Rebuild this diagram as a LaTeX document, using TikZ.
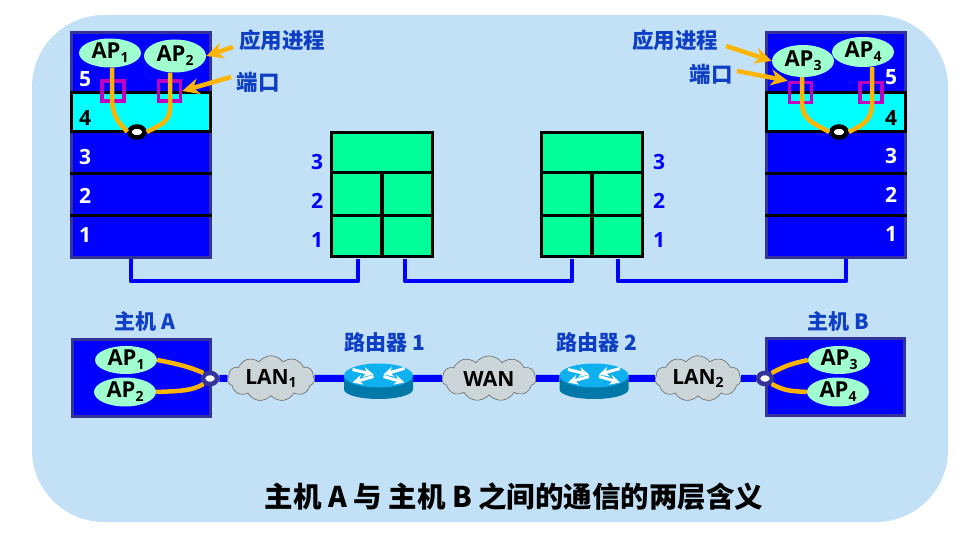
\documentclass[tikz,border=0pt]{standalone}
\usepackage{fontspec}
\setmainfont{Open Sans}
\newfontfamily\cjk{Noto Sans CJK SC}
\usetikzlibrary{arrows.meta, positioning, calc, shapes.geometric, shapes.symbols}
\definecolor{panelblue}{HTML}{C2E1F6}
\definecolor{stackblue}{HTML}{0000FF}
\definecolor{stackedge}{HTML}{333399}
\definecolor{mintap}{HTML}{9FFFCF}
\definecolor{relaygreen}{HTML}{00FF99}
\definecolor{layercyan}{HTML}{00FFFF}
\definecolor{pipeorange}{HTML}{FFB400}
\definecolor{portpurple}{HTML}{C000C0}
\definecolor{labelblue}{HTML}{0F3FC4}
\definecolor{cloudgrey}{HTML}{CCD6D9}
\definecolor{routertop}{HTML}{0FB0F0}
\definecolor{routerside}{HTML}{0078A8}
\tikzset{
	stackbox/.style={draw=stackedge, line width=3pt, fill=stackblue, minimum width=139pt, inner sep=0pt},
	layerline/.style={draw=black, line width=3pt},
	applayer/.style={draw=black, line width=3pt, fill=layercyan, minimum width=139pt, minimum height=39pt, inner sep=0pt},
	apnode/.style={ellipse, fill=mintap, text=black, font=\bfseries\fontsize{22}{24}\selectfont, inner sep=0pt, minimum width=62pt, minimum height=#1},
	apnode/.default=30pt,
	whitenum/.style={text=white, font=\bfseries\fontsize{21}{24}\selectfont, inner sep=0pt},
	blacknum/.style={text=black, font=\bfseries\fontsize{21}{24}\selectfont, inner sep=0pt},
	bluenum/.style={text=stackblue, font=\bfseries\fontsize{21}{24}\selectfont, inner sep=0pt},
	bluelabel/.style={text=labelblue, font=\cjk\bfseries\fontsize{#1}{24}\selectfont, inner sep=0pt},
	bluelabel/.default=21.5,
	pipe/.style={draw=pipeorange, line width=4.5pt},
	pointer/.style={draw=pipeorange, line width=4.5pt, -{Stealth[length=17pt, width=16pt]}},
	portbox/.style={draw=portpurple, line width=3.5pt, minimum width=22pt, minimum height=20pt, inner sep=0pt},
	sockettop/.style={ellipse, draw=black, line width=4.5pt, fill=white, minimum width=15pt, minimum height=11pt, inner sep=0pt},
	socketlow/.style={ellipse, draw=stackedge, line width=4.5pt, fill=white, minimum width=14pt, minimum height=11pt, inner sep=0pt},
	relaycell/.style={draw=black, line width=3pt, fill=relaygreen, inner sep=0pt},
	wire/.style={draw=stackblue, line width=4.5pt, line join=round},
	netline/.style={draw=stackblue, line width=7pt},
	lancloud/.style={cloud, cloud puffs=11, cloud puff arc=110, aspect=2, draw=black!60, line width=0.6pt, fill=cloudgrey, text=black, font=\bfseries\fontsize{21}{24}\selectfont, inner sep=0pt, minimum width=#1, minimum height=44pt},
	routerbase/.style={rectangle, fill=none, inner sep=0pt, minimum width=69pt, minimum height=30pt},
	hostbox/.style={draw=stackedge, line width=3pt, fill=stackblue, inner sep=0pt, minimum width=138pt, minimum height=77pt}
}
\newcommand{\apname}[1]{AP\raisebox{-0.32ex}{\fontsize{14}{14}\selectfont #1}}
\newcommand{\lanname}[2]{#1\raisebox{-0.32ex}{\fontsize{14}{14}\selectfont #2}}
\newcommand{\routericon}[1]{
	\fill[routerside] ($(#1)+(-34.5,-3)$) -- ($(#1)+(-34.5,11)$) arc[start angle=180, end angle=360, x radius=34.5, y radius=-9.5] -- ($(#1)+(34.5,-3)$) -- cycle;
	\fill[routertop] ($(#1)+(0,-3)$) ellipse [x radius=34.5, y radius=12];
	\begin{scope}[shift={($(#1)+(0,-3)$)}, white, line width=3pt, -{Stealth[length=10pt, width=10pt]}]
		\draw (-26,-6) -- (-5,-1);
		\draw (26,-7) -- (5,-1);
		\draw (-5,1) -- (-26,7);
		\draw (5,1) -- (26,7);
	\end{scope}
}

\begin{document}
\begin{tikzpicture}[x=1pt, y=-1pt]
		\useasboundingbox (0,0) rectangle (970,537);
		\fill[panelblue] (32,15) [rounded corners=72pt] rectangle (948,522);

		% left host stack
		\node[stackbox, minimum height=225pt] (stackA) at (141,145.5) {};
		\node[applayer] (layerA4) at (141,112) {};
		\draw[layerline] (stackA.west |- 0,174) -- (stackA.east |- 0,174);
		\draw[layerline] (stackA.west |- 0,216) -- (stackA.east |- 0,216);
		\node[whitenum] (numA5) at (85,79) {5};
		\node[blacknum] (numA4) at (85,118) {4};
		\node[whitenum] (numA3) at (85,157) {3};
		\node[whitenum] (numA2) at (85,196) {2};
		\node[whitenum] (numA1) at (85,235) {1};

		\node[apnode=29pt] (apA1) at (110,53) {\apname{1}};
		\node[apnode=33pt] (apA2) at (175,56) {\apname{2}};
		\node[portbox] (portA1) at (113,91) {};
		\node[portbox] (portA2) at (169.5,91) {};
		\node[sockettop] (sockA) at (137,132) {};
		\draw[pipe] ([xshift=2pt]apA1.south) -- (112,100) .. controls (113,120) and (122,125) .. (sockA.west);
		\draw[pipe] ([xshift=-5pt]apA2.south) -- (170,108) .. controls (170,122) and (160,125) .. (sockA.east);

		\node[bluelabel] (procA) at (282,40) {应用进程};
		\node[bluelabel] (portlabelA) at (258,82) {端口};
		\draw[pointer] (233,47) -- (apA2.east);
		\draw[pointer] (231,77) -- (portA2.east);

		% right host stack
		\node[stackbox, minimum height=225pt] (stackB) at (836,145.5) {};
		\node[applayer] (layerB4) at (836,112) {};
		\draw[layerline] (stackB.west |- 0,174) -- (stackB.east |- 0,174);
		\draw[layerline] (stackB.west |- 0,216) -- (stackB.east |- 0,216);
		\node[whitenum] (numB5) at (891,77) {5};
		\node[blacknum] (numB4) at (891,118) {4};
		\node[whitenum] (numB3) at (891,156) {3};
		\node[whitenum] (numB2) at (891,195) {2};
		\node[whitenum] (numB1) at (891,234) {1};

		\node[portbox] (portB1) at (800.5,92.5) {};
		\node[portbox] (portB2) at (871,92.5) {};
		\node[sockettop] (sockB) at (839,132) {};
		\node[apnode=32pt] (apB3) at (803,61) {\apname{3}};
		\node[apnode=30pt] (apB4) at (863,52) {\apname{4}};
		\draw[pipe] ([xshift=-1pt]apB3.south) -- (802,104) .. controls (803,122) and (818,125) .. (sockB.west);
		\draw[pipe] ([xshift=9pt]apB4.south) -- (872,104) .. controls (872,122) and (860,126) .. (sockB.east);

		\node[bluelabel] (procB) at (675,40) {应用进程};
		\node[bluelabel] (portlabelB) at (711,74) {端口};
		\draw[pointer] (726,46) -- (apB3.west);
		\draw[pointer] (737,71) -- (portB1.north west);

		% relay boxes
		\node[relaycell, minimum width=100.5pt, minimum height=40pt] (relayA3) at (382,153) {};
		\node[relaycell, minimum width=50.25pt, minimum height=43pt] (relayA2l) at (356.75,194.5) {};
		\node[relaycell, minimum width=50.25pt, minimum height=43pt] (relayA2r) at (407.25,194.5) {};
		\node[relaycell, minimum width=50.25pt, minimum height=41pt] (relayA1l) at (356.75,236.5) {};
		\node[relaycell, minimum width=50.25pt, minimum height=41pt] (relayA1r) at (407.25,236.5) {};
		\node[relaycell, minimum width=100.5pt, minimum height=40pt] (relayB3) at (592,153) {};
		\node[relaycell, minimum width=50.25pt, minimum height=43pt] (relayB2l) at (566.75,194.5) {};
		\node[relaycell, minimum width=50.25pt, minimum height=43pt] (relayB2r) at (617.25,194.5) {};
		\node[relaycell, minimum width=50.25pt, minimum height=41pt] (relayB1l) at (566.75,236.5) {};
		\node[relaycell, minimum width=50.25pt, minimum height=41pt] (relayB1r) at (617.25,236.5) {};
		\node[bluenum] (numC3) at (317,162) {3};
		\node[bluenum] (numC2) at (317,201) {2};
		\node[bluenum] (numC1) at (317,240) {1};
		\node[bluenum] (numD3) at (659,162) {3};
		\node[bluenum] (numD2) at (659,201) {2};
		\node[bluenum] (numD1) at (659,240) {1};

		\coordinate (wireA) at (131,259);
		\coordinate (wireB) at (358,259);
		\coordinate (wireC) at (405,259);
		\coordinate (wireD) at (572,259);
		\coordinate (wireE) at (618,259);
		\coordinate (wireF) at (846,259);
		\draw[wire] (wireA) -- ++(0,22) -| (wireB);
		\draw[wire] (wireC) -- ++(0,22) -| (wireD);
		\draw[wire] (wireE) -- ++(0,22) -| (wireF);

		% lower network
		\node[hostbox] (hostA) at (141,378.5) {};
		\node[hostbox] (hostB) at (835,377) {};
		\node[bluelabel=21] (nameA) at (145,321) {主机 A};
		\node[bluelabel=21] (nameB) at (838,321) {主机 B};
		\node[bluelabel=21] (nameR1) at (385,343) {路由器 1};
		\node[bluelabel=21] (nameR2) at (597,343) {路由器 2};

		\node[apnode=28pt] (apC1) at (126,360) {\apname{1}};
		\node[apnode=29pt] (apC2) at (125,392) {\apname{2}};
		\node[apnode=28pt] (apD3) at (839,360) {\apname{3}};
		\node[apnode=29pt] (apD4) at (838,392) {\apname{4}};
		\node[socketlow] (sockC) at (210,378.5) {};
		\node[socketlow] (sockD) at (765,378.5) {};
		\draw[pipe] (apC1.east) .. controls (178,364) and (190,367) .. (sockC.north west);
		\draw[pipe] (apC2.east) .. controls (180,391) and (192,391) .. (sockC.south west);
		\draw[pipe] (apD3.west) .. controls (790,364) and (785,366) .. (sockD.north east);
		\draw[pipe] (apD4.west) .. controls (790,391) and (785,391) .. (sockD.south east);

		\node[lancloud=87pt] (lanA) at (271,378.5) {\lanname{LAN}{1}};
		\node[lancloud=94pt] (wan) at (489,378.5) {WAN};
		\node[lancloud=86pt] (lanB) at (698,378.5) {\lanname{LAN}{2}};
		\node[routerbase] (routerA) at (378.5,378.5) {};
		\node[routerbase] (routerB) at (594,378.5) {};
		\routericon{routerA}
		\routericon{routerB}

		\draw[netline] (sockC) -- (lanA);
		\draw[netline] (lanA) -- (routerA);
		\draw[netline] (routerA) -- (wan);
		\draw[netline] (wan) -- (routerB);
		\draw[netline] (routerB) -- (lanB);
		\draw[netline] (lanB) -- (sockD);

		\node[text=black, font=\cjk\bfseries\fontsize{28.5}{30}\selectfont, inner sep=0pt] (title) at (514,497) {主机 A 与 主机 B 之间的通信的两层含义};
\end{tikzpicture}
\end{document}
